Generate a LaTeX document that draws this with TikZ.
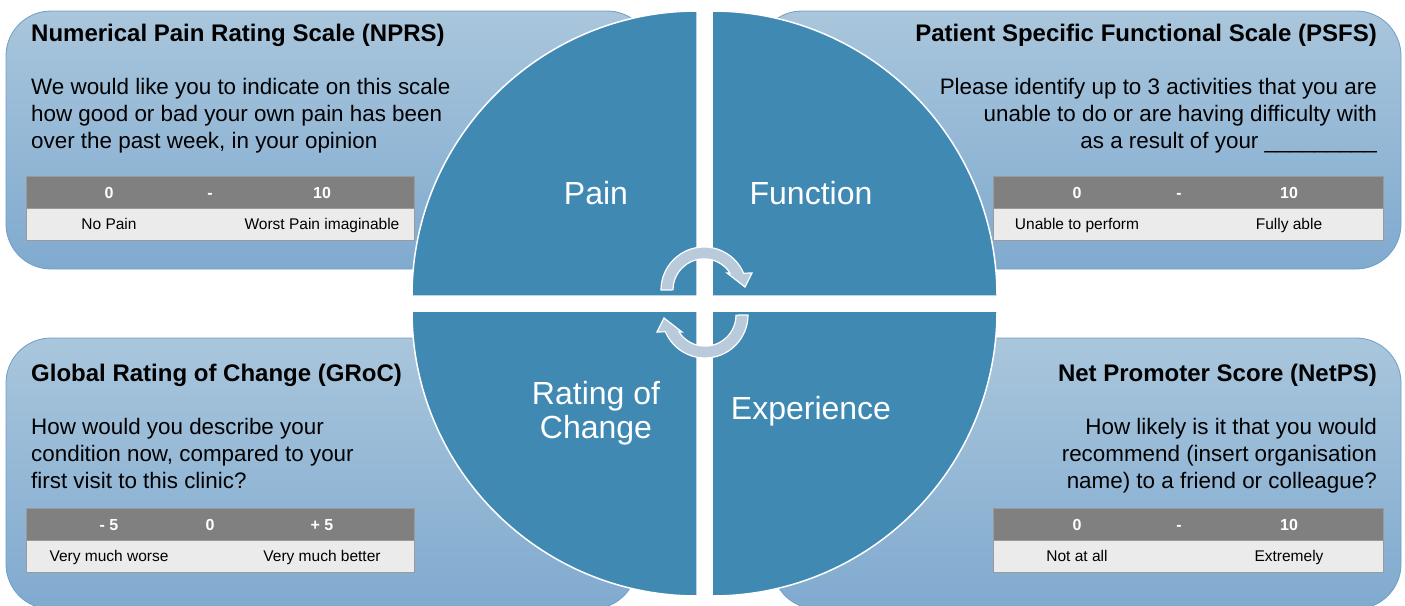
\documentclass[tikz,border=0pt]{standalone}
\usepackage{fontspec}
\setmainfont{Liberation Sans}

\definecolor{quadblue}{HTML}{3F89B3}
\definecolor{paneltop}{HTML}{A9C6DC}
\definecolor{panelbot}{HTML}{80AACF}
\definecolor{paneledge}{HTML}{6E9FC6}
\definecolor{headgray}{HTML}{808080}
\definecolor{rowgray}{HTML}{EBEBEB}
\definecolor{tableedge}{HTML}{9A9A9A}
\definecolor{cyclefill}{HTML}{B9CADB}

\begin{document}
\begin{tikzpicture}[x=1pt,y=-1pt]
    \tikzstyle{panel}=[draw=paneledge, line width=0.8pt, rounded corners=45pt, top color=paneltop, bottom color=panelbot]
    \tikzstyle{quadrant}=[fill=quadblue, draw=white, line width=1.5pt]
    \tikzstyle{cycle}=[fill=cyclefill, draw=white, line width=1.2pt]
    \tikzstyle{title}=[inner sep=0, font=\bfseries\fontsize{24}{28}\selectfont, text=black]
    \tikzstyle{body}=[inner sep=0, font=\fontsize{22.4}{27}\selectfont, text=black]
    \tikzstyle{label}=[inner sep=0, font=\fontsize{32}{34}\selectfont, text=white, align=center]
    \tikzstyle{headrow}=[fill=headgray, draw=tableedge, line width=0.8pt]
    \tikzstyle{valrow}=[fill=rowgray, draw=tableedge, line width=0.8pt]
    \tikzstyle{headtxt}=[anchor=base, inner sep=0, font=\bfseries\fontsize{16}{18}\selectfont, text=white]
    \tikzstyle{valtxt}=[anchor=base, inner sep=0, font=\fontsize{15.5}{18}\selectfont, text=black]

    \useasboundingbox[fill=white] (0,0) rectangle (1405,605);

    % panels
    \draw[panel] (6,11) rectangle (652,269);
    \draw[panel] (757,11) rectangle (1401,269);
    \draw[panel] (6,338) rectangle (637,609);
    \draw[panel] (772,338) rectangle (1401,609);

    % circle in four quarters
    \draw[quadrant] (697,296) -- (412,296) arc[start angle=180, end angle=270, radius=285] -- cycle;
    \draw[quadrant] (712,296) -- (712,11) arc[start angle=270, end angle=360, radius=285] -- cycle;
    \draw[quadrant] (712,311) -- (997,311) arc[start angle=0, end angle=90, radius=285] -- cycle;
    \draw[quadrant] (697,311) -- (697,596) arc[start angle=90, end angle=180, radius=285] -- cycle;

    % cycle arrows
    \draw[cycle] (661,290) arc[start angle=180, end angle=337, radius=43] -- (752,273) -- (745,287) -- (727,273) -- (730,273) arc[start angle=327, end angle=180, radius=31] -- cycle;
    \draw[cycle, rotate around={180:(704.5,302.5)}] (661,290) arc[start angle=180, end angle=337, radius=43] -- (752,273) -- (745,287) -- (727,273) -- (730,273) arc[start angle=327, end angle=180, radius=31] -- cycle;

    \node[label] (pain) at (596,193) {Pain};
    \node[label] (function) at (811,193) {Function};
    \node[label] (change) at (596,413) {Rating of\\Change};
    \node[label] (experience) at (811,411) {Experience};

    % NPRS
    \node[title, anchor=base west] (nprs title) at (31,41) {Numerical Pain Rating Scale (NPRS)};
    \node[body, anchor=base west, align=left] (nprs text) at (31,148) {We would like you to indicate on this scale\\how good or bad your own pain has been\\over the past week, in your opinion};
    \draw[headrow] (26,176) rectangle (414,208);
    \draw[valrow] (26,208) rectangle (414,240);
    \node[headtxt] (nprs lo) at (109,198) {0};
    \node[headtxt] (nprs mid) at (210,198) {-};
    \node[headtxt] (nprs hi) at (322,198) {10};
    \node[valtxt] (nprs lotxt) at (109,229.5) {No Pain};
    \node[valtxt] (nprs hitxt) at (322,229.5) {Worst Pain imaginable};

    % PSFS
    \node[title, anchor=base east] (psfs title) at (1377,41) {Patient Specific Functional Scale (PSFS)};
    \node[body, anchor=base east, align=right] (psfs text) at (1377,148) {Please identify up to 3 activities that you are\\unable to do or are having difficulty with\\as a result of your \_\_\_\_\_\_\_\_\_};
    \draw[headrow] (993,176) rectangle (1383,208);
    \draw[valrow] (993,208) rectangle (1383,240);
    \node[headtxt] (psfs lo) at (1077,198) {0};
    \node[headtxt] (psfs mid) at (1179,198) {-};
    \node[headtxt] (psfs hi) at (1289,198) {10};
    \node[valtxt] (psfs lotxt) at (1077,229.5) {Unable to perform};
    \node[valtxt] (psfs hitxt) at (1289,229.5) {Fully able};

    % GRoC
    \node[title, anchor=base west] (groc title) at (31,381) {Global Rating of Change (GRoC)};
    \node[body, anchor=base west, align=left] (groc text) at (31,488) {How would you describe your\\condition now, compared to your\\first visit to this clinic?};
    \draw[headrow] (26,508) rectangle (414,540);
    \draw[valrow] (26,540) rectangle (414,572);
    \node[headtxt] (groc lo) at (109,530) {- 5};
    \node[headtxt] (groc mid) at (210,530) {0};
    \node[headtxt] (groc hi) at (322,530) {+ 5};
    \node[valtxt] (groc lotxt) at (109,561.5) {Very much worse};
    \node[valtxt] (groc hitxt) at (322,561.5) {Very much better};

    % NetPS
    \node[title, anchor=base east] (netps title) at (1377,381) {Net Promoter Score (NetPS)};
    \node[body, anchor=base east, align=right] (netps text) at (1377,488) {How likely is it that you would\\recommend (insert organisation\\name) to a friend or colleague?};
    \draw[headrow] (993,508) rectangle (1383,540);
    \draw[valrow] (993,540) rectangle (1383,572);
    \node[headtxt] (netps lo) at (1077,530) {0};
    \node[headtxt] (netps mid) at (1179,530) {-};
    \node[headtxt] (netps hi) at (1289,530) {10};
    \node[valtxt] (netps lotxt) at (1077,561.5) {Not at all};
    \node[valtxt] (netps hitxt) at (1289,561.5) {Extremely};
\end{tikzpicture}
\end{document}
